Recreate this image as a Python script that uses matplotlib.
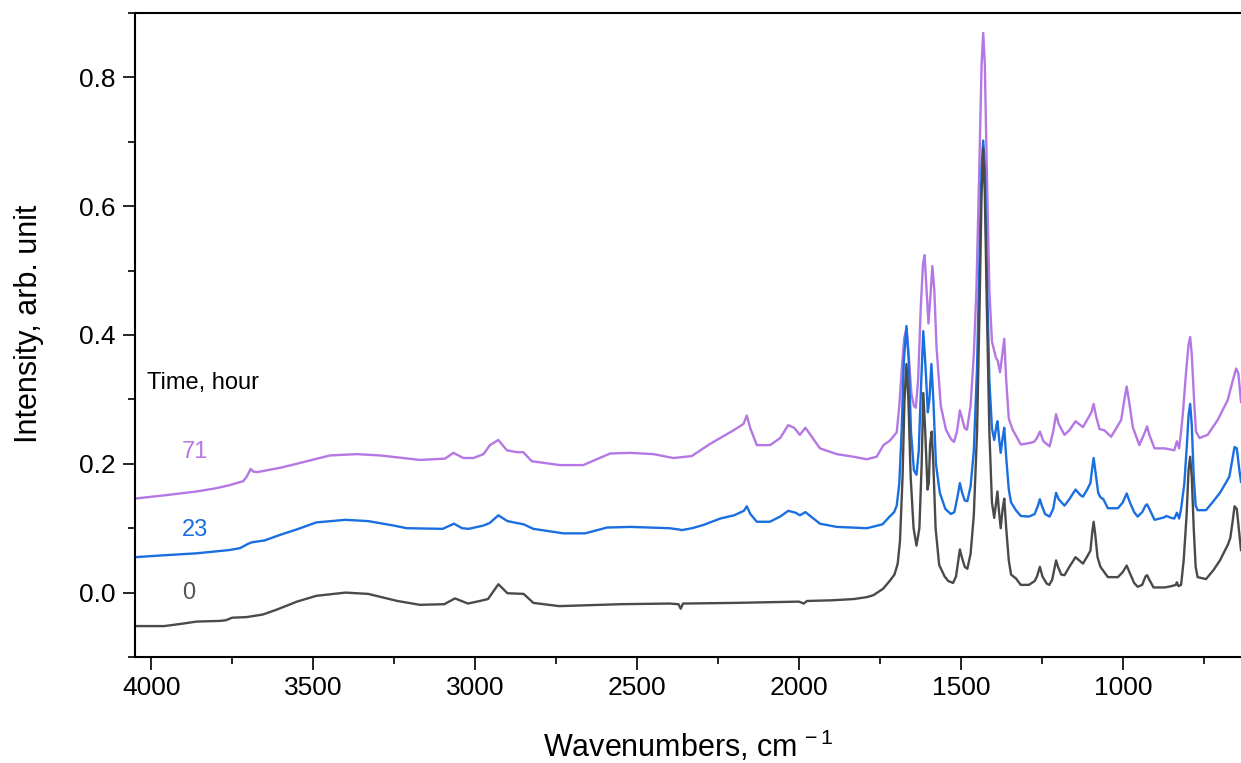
import matplotlib
matplotlib.use("Agg")
import matplotlib.pyplot as plt
from matplotlib.ticker import MultipleLocator, FormatStrFormatter

plt.rcParams['font.family'] = ['Liberation Sans', 'DejaVu Sans']
plt.rcParams['mathtext.fontset'] = 'custom'
plt.rcParams['mathtext.rm'] = 'Liberation Sans'
plt.rcParams['mathtext.it'] = 'Liberation Sans'

# ---- data: 0 hour ----
wn_0 = [4050, 3960, 3900, 3860, 3790, 3770, 3750, 3705, 3655, 3610, 3550, 3490, 3400, 3330,
        3240, 3170, 3095, 3062, 3022, 2985, 2960, 2928, 2900, 2850, 2820, 2740, 2620, 2550,
        2400, 2372, 2365, 2358, 2200, 2100, 2000, 1985, 1975, 1900, 1830, 1790, 1770, 1740,
        1720, 1705, 1695, 1688, 1680, 1674, 1668, 1662, 1655, 1646, 1637, 1628, 1621, 1616,
        1610, 1603, 1599, 1595, 1590, 1585, 1578, 1567, 1550, 1539, 1524, 1515, 1508, 1503,
        1497, 1488, 1480, 1470, 1460, 1450, 1442, 1436, 1431, 1426, 1420, 1412, 1404, 1397,
        1390, 1387, 1383, 1377, 1371, 1366, 1360, 1352, 1345, 1330, 1315, 1290, 1272, 1265,
        1256, 1248, 1235, 1227, 1218, 1210, 1206, 1200, 1190, 1180, 1165, 1146, 1130, 1123,
        1110, 1100, 1094, 1090, 1085, 1078, 1069, 1046, 1015, 1000, 988, 978, 965, 954, 940,
        930, 925, 918, 905, 870, 850, 836, 833, 828, 820, 812, 803, 797, 792, 787, 781, 775,
        769, 743, 720, 700, 690, 675, 668, 661, 655, 648, 640, 635]
int_0 = [-0.052, -0.052, -0.048, -0.045, -0.044, -0.043, -0.039, -0.038, -0.034, -0.026,
         -0.014, -0.005, 0.000, -0.002, -0.013, -0.019, -0.018, -0.009, -0.017, -0.013, -0.010,
         0.013, -0.001, -0.002, -0.016, -0.021, -0.019, -0.018, -0.017, -0.018, -0.025, -0.017,
         -0.016, -0.015, -0.014, -0.017, -0.013, -0.012, -0.010, -0.007, -0.004, 0.006, 0.018,
         0.028, 0.045, 0.08, 0.18, 0.30, 0.355, 0.30, 0.18, 0.10, 0.073, 0.10, 0.20, 0.31, 0.25,
         0.16, 0.17, 0.23, 0.25, 0.20, 0.10, 0.043, 0.025, 0.018, 0.015, 0.025, 0.05, 0.067,
         0.055, 0.04, 0.037, 0.06, 0.12, 0.25, 0.45, 0.62, 0.69, 0.62, 0.45, 0.25, 0.14, 0.116,
         0.145, 0.157, 0.13, 0.10, 0.13, 0.146, 0.10, 0.05, 0.028, 0.022, 0.012, 0.012, 0.018,
         0.025, 0.04, 0.025, 0.014, 0.012, 0.02, 0.04, 0.05, 0.04, 0.028, 0.027, 0.04, 0.055,
         0.048, 0.045, 0.056, 0.065, 0.095, 0.11, 0.09, 0.055, 0.04, 0.024, 0.024, 0.032, 0.042,
         0.03, 0.015, 0.009, 0.012, 0.025, 0.027, 0.02, 0.008, 0.008, 0.01, 0.012, 0.016, 0.01,
         0.012, 0.05, 0.12, 0.19, 0.211, 0.18, 0.10, 0.04, 0.024, 0.021, 0.035, 0.05, 0.06,
         0.075, 0.085, 0.11, 0.134, 0.13, 0.09, 0.066]

# ---- data: 23 hour ----
wn_23 = [4050, 3960, 3860, 3760, 3726, 3700, 3690, 3650, 3600, 3551, 3490, 3400, 3330, 3250,
         3211, 3100, 3065, 3040, 3020, 2975, 2955, 2928, 2900, 2850, 2820, 2727, 2660, 2593,
         2520, 2400, 2370, 2362, 2330, 2295, 2243, 2200, 2170, 2161, 2150, 2130, 2090, 2058,
         2033, 2010, 1997, 1980, 1935, 1883, 1790, 1742, 1720, 1706, 1698, 1690, 1683, 1676,
         1668, 1661, 1654, 1645, 1637, 1630, 1623, 1616, 1609, 1602, 1597, 1591, 1585, 1577,
         1565, 1548, 1531, 1520, 1510, 1503, 1496, 1488, 1480, 1470, 1460, 1450, 1442, 1436,
         1431, 1426, 1420, 1412, 1404, 1397, 1390, 1387, 1382, 1377, 1371, 1366, 1360, 1352,
         1345, 1330, 1315, 1290, 1272, 1262, 1256, 1250, 1240, 1226, 1215, 1206, 1198, 1180,
         1165, 1146, 1130, 1123, 1110, 1100, 1094, 1090, 1085, 1076, 1069, 1060, 1046, 1015,
         1000, 988, 978, 965, 954, 940, 930, 925, 918, 902, 871, 866, 850, 841, 833, 826, 820,
         810, 802, 797, 792, 787, 781, 775, 769, 743, 720, 700, 680, 671, 664, 655, 648, 640, 635]
int_23 = [0.055, 0.058, 0.061, 0.066, 0.069, 0.076, 0.078, 0.081, 0.09, 0.098, 0.109, 0.113,
          0.111, 0.104, 0.100, 0.099, 0.107, 0.100, 0.099, 0.104, 0.108, 0.120, 0.111, 0.106,
          0.099, 0.092, 0.092, 0.101, 0.102, 0.100, 0.098, 0.097, 0.100, 0.105, 0.115, 0.12,
          0.127, 0.134, 0.122, 0.110, 0.110, 0.118, 0.127, 0.124, 0.120, 0.125, 0.107, 0.102,
          0.100, 0.106, 0.118, 0.125, 0.135, 0.17, 0.25, 0.36, 0.414, 0.36, 0.25, 0.19, 0.183,
          0.22, 0.32, 0.406, 0.35, 0.28, 0.30, 0.355, 0.30, 0.20, 0.155, 0.13, 0.122, 0.125,
          0.15, 0.17, 0.155, 0.143, 0.142, 0.165, 0.22, 0.35, 0.53, 0.66, 0.702, 0.66, 0.50,
          0.33, 0.255, 0.237, 0.26, 0.266, 0.24, 0.217, 0.24, 0.256, 0.21, 0.16, 0.14, 0.128,
          0.119, 0.118, 0.122, 0.135, 0.145, 0.135, 0.122, 0.118, 0.13, 0.155, 0.145, 0.135,
          0.145, 0.16, 0.151, 0.149, 0.160, 0.17, 0.195, 0.209, 0.19, 0.155, 0.148, 0.145, 0.131,
          0.131, 0.140, 0.154, 0.14, 0.125, 0.118, 0.125, 0.135, 0.137, 0.13, 0.113, 0.117,
          0.119, 0.116, 0.115, 0.124, 0.115, 0.13, 0.169, 0.23, 0.275, 0.293, 0.26, 0.18, 0.135,
          0.128, 0.128, 0.142, 0.155, 0.172, 0.18, 0.20, 0.226, 0.224, 0.19, 0.172]

# ---- data: 71 hour ----
wn_71 = [4050, 3960, 3860, 3800, 3757, 3716, 3705, 3693, 3685, 3674, 3600, 3551, 3448, 3365,
         3293, 3170, 3093, 3067, 3036, 3005, 2974, 2954, 2928, 2902, 2870, 2851, 2825, 2738,
         2666, 2583, 2521, 2449, 2388, 2331, 2295, 2274, 2202, 2171, 2161, 2150, 2130, 2089,
         2058, 2033, 2015, 1997, 1980, 1935, 1883, 1832, 1791, 1760, 1739, 1719, 1698, 1690,
         1682, 1675, 1668, 1661, 1653, 1645, 1639, 1632, 1624, 1617, 1612, 1606, 1600, 1594,
         1588, 1582, 1575, 1562, 1546, 1530, 1521, 1512, 1503, 1496, 1488, 1481, 1470, 1460,
         1452, 1443, 1436, 1431, 1426, 1420, 1412, 1404, 1397, 1392, 1386, 1379, 1372, 1366,
         1360, 1352, 1340, 1315, 1290, 1274, 1265, 1256, 1245, 1226, 1215, 1206, 1198, 1180,
         1165, 1146, 1123, 1108, 1097, 1090, 1083, 1072, 1057, 1036, 1005, 995, 988, 980, 969,
         949, 935, 925, 918, 902, 871, 841, 833, 826, 820, 815, 805, 797, 792, 787, 780, 774,
         763, 738, 707, 676, 660, 650, 643, 635]
int_71 = [0.146, 0.151, 0.157, 0.162, 0.167, 0.173, 0.18, 0.192, 0.188, 0.187, 0.194, 0.200,
          0.213, 0.215, 0.213, 0.206, 0.208, 0.217, 0.209, 0.209, 0.215, 0.229, 0.237, 0.221,
          0.218, 0.218, 0.204, 0.198, 0.198, 0.216, 0.217, 0.215, 0.209, 0.212, 0.224, 0.231,
          0.252, 0.262, 0.275, 0.255, 0.229, 0.229, 0.24, 0.26, 0.256, 0.245, 0.256, 0.224,
          0.215, 0.211, 0.207, 0.211, 0.229, 0.236, 0.249, 0.29, 0.35, 0.395, 0.41, 0.37, 0.31,
          0.29, 0.287, 0.33, 0.44, 0.51, 0.524, 0.47, 0.418, 0.46, 0.507, 0.47, 0.38, 0.29,
          0.253, 0.238, 0.234, 0.25, 0.283, 0.27, 0.255, 0.253, 0.29, 0.37, 0.47, 0.66, 0.82,
          0.869, 0.82, 0.66, 0.47, 0.39, 0.375, 0.365, 0.36, 0.342, 0.37, 0.394, 0.33, 0.27,
          0.253, 0.230, 0.232, 0.234, 0.24, 0.25, 0.235, 0.227, 0.25, 0.277, 0.262, 0.245,
          0.252, 0.266, 0.257, 0.27, 0.28, 0.293, 0.275, 0.254, 0.252, 0.242, 0.268, 0.30, 0.32,
          0.295, 0.257, 0.229, 0.245, 0.258, 0.245, 0.224, 0.224, 0.221, 0.235, 0.224, 0.25,
          0.275, 0.34, 0.385, 0.397, 0.37, 0.30, 0.25, 0.24, 0.245, 0.268, 0.299, 0.33, 0.348,
          0.34, 0.296]

series_labels = ['0', '23', '71']
legend_title = 'Time, hour'

col_0 = '#4a4a4a'
col_23 = '#1a6fe0'
col_71 = '#b477e3'

W, H = 1241, 763
fig = plt.figure(figsize=(W / 100, H / 100), dpi=100)
ax = fig.add_axes([135 / W, 1 - 657 / H, (W - 135) / W, (657 - 13) / H])

ax.plot(wn_71, int_71, color=col_71, lw=1.7)
ax.plot(wn_23, int_23, color=col_23, lw=1.7)
ax.plot(wn_0, int_0, color=col_0, lw=1.7)

ax.set_xlim(4050, 635)
ax.set_ylim(-0.1, 0.9)
ax.xaxis.set_major_locator(MultipleLocator(500))
ax.xaxis.set_minor_locator(MultipleLocator(250))
ax.yaxis.set_major_locator(MultipleLocator(0.2))
ax.yaxis.set_minor_locator(MultipleLocator(0.1))
ax.yaxis.set_major_formatter(FormatStrFormatter('%.1f'))
ax.tick_params(which='major', direction='out', length=9, width=1.2, labelsize=19, pad=5)
ax.tick_params(which='minor', direction='out', length=5, width=1.2)
ax.tick_params(axis='x', which='both', top=False)
ax.tick_params(axis='y', which='both', right=False)
for s in ['left', 'bottom', 'top']:
    ax.spines[s].set_linewidth(1.5)
ax.spines['right'].set_visible(False)

ax.set_xlabel('Wavenumbers, cm$^{\\,-1}$', fontsize=22)
ax.xaxis.label.set_va('center')
ax.xaxis.set_label_coords(0.5, -0.139)
ax.set_ylabel('Intensity, arb. unit', fontsize=22)
ax.yaxis.label.set_va('center')
ax.yaxis.set_label_coords(-0.096, 0.517)

ax.text(4014, 0.325, legend_title, fontsize=17, color='black', ha='left', va='center')
ax.text(3906, 0.218, series_labels[2], fontsize=17, color=col_71, ha='left', va='center')
ax.text(3906, 0.097, series_labels[1], fontsize=17, color=col_23, ha='left', va='center')
ax.text(3906, 0.000, series_labels[0], fontsize=17, color='#555555', ha='left', va='center')

fig.savefig('out.png', dpi=100)
